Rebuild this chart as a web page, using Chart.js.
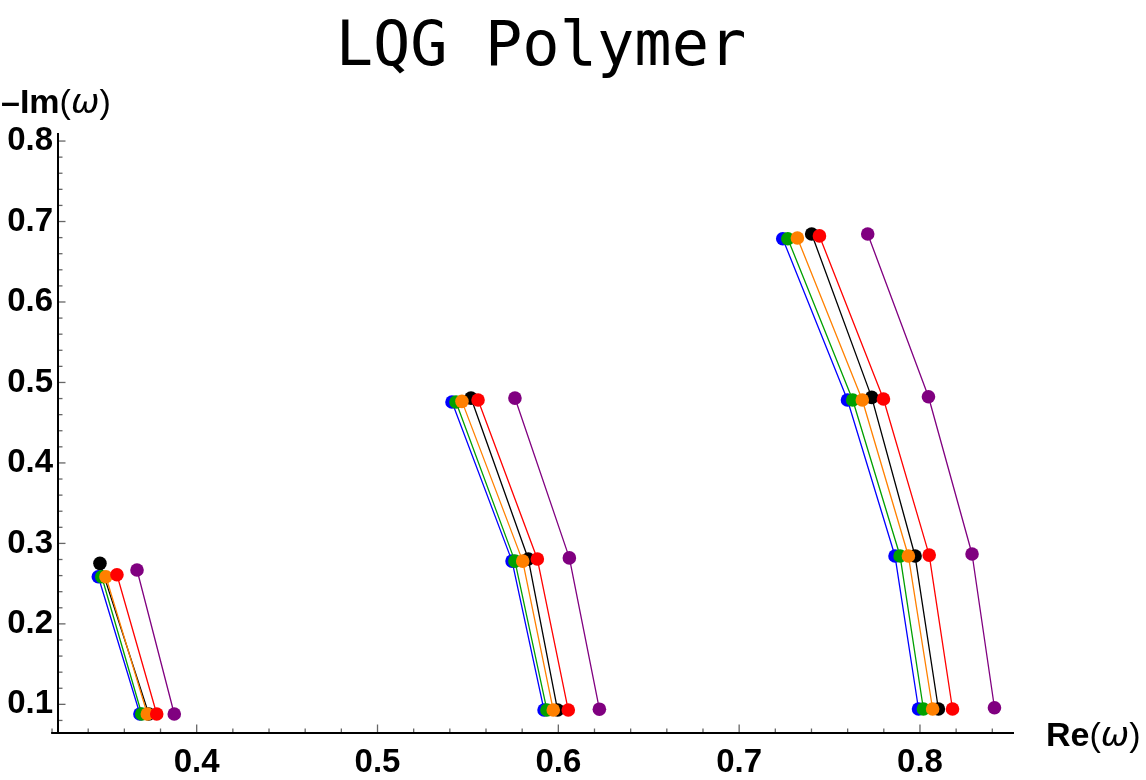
<!DOCTYPE html>
<html>
<head>
<meta charset="utf-8">
<script src="https://cdn.jsdelivr.net/npm/chart.js@4/dist/chart.umd.min.js"></script>
<style>
  html, body { margin: 0; padding: 0; background: #fff; }
  #wrap { position: relative; width: 1146px; height: 780px; }
</style>
</head>
<body>
<div id="wrap"><canvas id="c" width="1146" height="780"></canvas></div>
<script>
// ---- data (Re(ω), −Im(ω)) grouped by multipole family ----
const reBlack  = [[0.3465, 0.3735], [0.5517, 0.5834, 0.5996], [0.7401, 0.7733, 0.7973, 0.8102]];
const imBlack  = [[0.2752, 0.0880], [0.4806, 0.2806, 0.0929], [0.6845, 0.4815, 0.2843, 0.0942]];
const reBlue   = [[0.3456, 0.3686], [0.5412, 0.5744, 0.5921], [0.7241, 0.7599, 0.7862, 0.7992]];
const imBlue   = [[0.2586, 0.0880], [0.4757, 0.2780, 0.0929], [0.6786, 0.4782, 0.2843, 0.0942]];
const reGreen  = [[0.3475, 0.3696], [0.5434, 0.5760, 0.5937], [0.7269, 0.7628, 0.7890, 0.8019]];
const imGreen  = [[0.2586, 0.0880], [0.4757, 0.2780, 0.0929], [0.6786, 0.4782, 0.2843, 0.0942]];
const reOrange = [[0.3498, 0.3727], [0.5467, 0.5803, 0.5972], [0.7322, 0.7681, 0.7936, 0.8070]];
const imOrange = [[0.2586, 0.0880], [0.4765, 0.2780, 0.0929], [0.6795, 0.4782, 0.2843, 0.0942]];
const reRed    = [[0.3559, 0.3779], [0.5556, 0.5884, 0.6055], [0.7444, 0.7798, 0.8051, 0.8180]];
const imRed    = [[0.2611, 0.0880], [0.4782, 0.2806, 0.0929], [0.6821, 0.4794, 0.2855, 0.0942]];
const rePurple = [[0.3670, 0.3876], [0.5760, 0.6061, 0.6227], [0.7711, 0.8047, 0.8288, 0.8412]];
const imPurple = [[0.2670, 0.0880], [0.4806, 0.2820, 0.0940], [0.6845, 0.4823, 0.2868, 0.0958]];

const seriesRe     = [reBlack, reBlue, reGreen, reOrange, reRed, rePurple];
const seriesIm     = [imBlack, imBlue, imGreen, imOrange, imRed, imPurple];
const seriesColors = ['#000000', '#0000ff', '#00a000', '#ff8000', '#ff0000', '#800080'];

const xTickLabels = [0.4, 0.5, 0.6, 0.7, 0.8];
const yTickLabels = [0.1, 0.2, 0.3, 0.4, 0.5, 0.6, 0.7, 0.8];
const minorStep = 0.02;

const titleText = 'LQG Polymer';

// ---- build datasets: each family becomes a separate polyline (null y breaks the line)
function buildData(reGroups, imGroups) {
  const out = [];
  reGroups.forEach((g, gi) => {
    if (gi > 0) out.push({ x: g[0], y: null });
    g.forEach((xv, i) => out.push({ x: xv, y: imGroups[gi][i] }));
  });
  return out;
}

const datasets = seriesRe.map((re, i) => ({
  data: buildData(re, seriesIm[i]),
  order: seriesRe.length - i,   // later series drawn on top
  showLine: true,
  spanGaps: false,
  borderColor: seriesColors[i],
  backgroundColor: seriesColors[i],
  pointBackgroundColor: seriesColors[i],
  pointBorderColor: seriesColors[i],
  pointBorderWidth: 0,
  pointRadius: 6.8,
  borderWidth: 1.3,
  tension: 0
}));

const axesPlugin = {
  id: 'mmaAxes',
  beforeDatasetsDraw(chart) {
    const { ctx, chartArea: a, scales: { x, y } } = chart;
    ctx.save();
    ctx.strokeStyle = '#666';
    ctx.lineWidth = 1.3;
    const isMajor = (v, arr) => arr.some(t => Math.abs(t - v) < 1e-6);
    for (let v = 0.32; v <= x.max + 1e-9; v += minorStep) {
      const vv = Math.round(v * 100) / 100;
      const px = x.getPixelForValue(vv);
      const len = isMajor(vv, xTickLabels) ? 8.5 : 4.5;
      ctx.beginPath(); ctx.moveTo(px, a.bottom); ctx.lineTo(px, a.bottom - len); ctx.stroke();
    }
    for (let v = 0.08; v <= y.max + 1e-9; v += minorStep) {
      const vv = Math.round(v * 100) / 100;
      if (vv < y.min) continue;
      const py = y.getPixelForValue(vv);
      const len = isMajor(vv, yTickLabels) ? 7.5 : 4.5;
      ctx.beginPath(); ctx.moveTo(a.left, py); ctx.lineTo(a.left + len, py); ctx.stroke();
    }
    ctx.strokeStyle = '#000';
    ctx.lineWidth = 2;
    ctx.beginPath();
    ctx.moveTo(x.getPixelForValue(0.3195), a.bottom);
    ctx.lineTo(a.right, a.bottom);
    ctx.stroke();
    ctx.beginPath();
    ctx.moveTo(a.left, a.bottom + 1);
    ctx.lineTo(a.left, a.top);
    ctx.stroke();
    ctx.restore();
  },
  afterDraw(chart) {
    const { ctx } = chart;
    ctx.save();
    ctx.fillStyle = '#000';
    ctx.textBaseline = 'alphabetic';
    ctx.font = '62px "DejaVu Sans Mono"';
    ctx.textAlign = 'center';
    ctx.fillText(titleText, 541, 65);
    ctx.textAlign = 'left';
    const drawParts = (parts, x0, base) => {
      let xx = x0;
      parts.forEach(([t, f]) => { ctx.font = f; ctx.fillText(t, xx, base); xx += ctx.measureText(t).width; });
    };
    const bold = 'bold 34px "Liberation Sans"';
    const reg = '34px "Liberation Sans"';
    const ital = 'italic 34px "DejaVu Sans"';
    drawParts([['\u2013Im', bold], ['(', reg], ['\u03c9', ital], [')', reg]], 1, 113);
    drawParts([['Re', bold], ['(', reg], ['\u03c9', ital], [')', reg]], 1046, 746);
    ctx.restore();
  }
};

new Chart(document.getElementById('c'), {
  type: 'scatter',
  data: { datasets },
  options: {
    responsive: false,
    animation: false,
    devicePixelRatio: 1,
    layout: { padding: { left: 0, top: 133, right: 132, bottom: 0 } },
    plugins: { legend: { display: false }, tooltip: { enabled: false }, title: { display: false } },
    elements: { line: { borderJoinStyle: 'round' } },
    scales: {
      x: {
        type: 'linear',
        min: 0.3233, max: 0.852,
        afterBuildTicks: s => { s.ticks = xTickLabels.map(v => ({ value: v })); },
        afterFit: s => { s.height = 47; },
        grid: { display: false, drawTicks: false },
        border: { display: false },
        ticks: {
          padding: 10,
          color: '#000',
          font: { family: 'Liberation Sans', weight: 'bold', size: 33 },
          callback: v => v.toFixed(1),
          maxRotation: 0
        }
      },
      y: {
        type: 'linear',
        min: 0.0644, max: 0.81,
        afterBuildTicks: s => { s.ticks = yTickLabels.map(v => ({ value: v })); },
        afterFit: s => { s.width = 58; },
        grid: { display: false, drawTicks: false },
        border: { display: false },
        ticks: {
          padding: 5,
          color: '#000',
          font: { family: 'Liberation Sans', weight: 'bold', size: 33 },
          callback: v => v.toFixed(1)
        }
      }
    }
  },
  plugins: [axesPlugin]
});
</script>
</body>
</html>
